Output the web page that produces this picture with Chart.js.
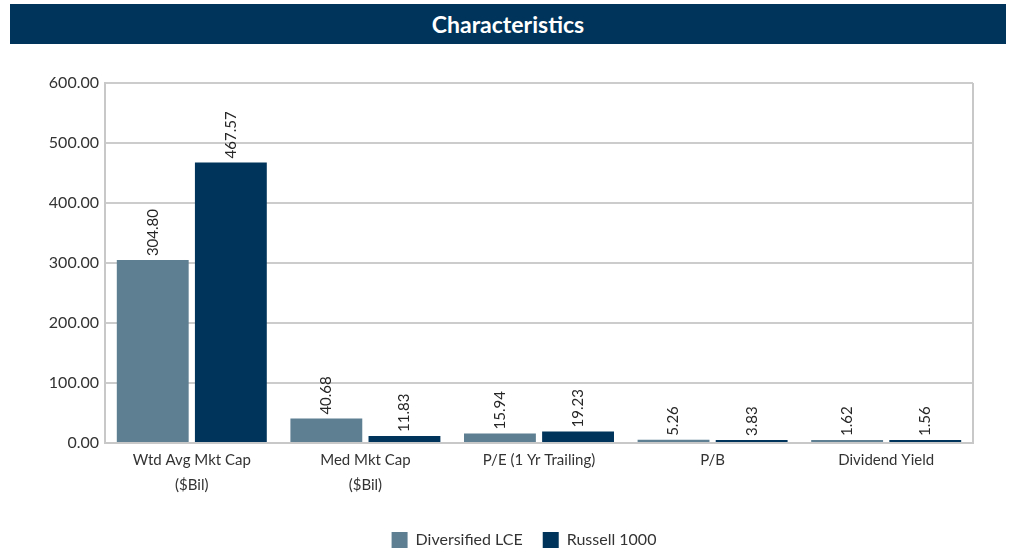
<!DOCTYPE html>
<html>
<head>
<meta charset="utf-8">
<script src="https://cdn.jsdelivr.net/npm/chart.js@4"></script>
<style>
  html, body { margin:0; padding:0; background:#fff; width:1009px; height:552px; overflow:hidden; }
  #title { position:absolute; left:10px; top:4px; width:996px; height:40px; background:#00345A;
           color:#fff; font-family:Lato, "DejaVu Sans", sans-serif; font-weight:bold; font-size:23px;
           line-height:40px; text-align:center; }
  #wrap { position:absolute; left:0; top:48px; width:1009px; height:510px; }
</style>
</head>
<body>
<div id="title">Characteristics</div>
<div id="wrap"><canvas id="c"></canvas></div>
<script>
const categories = [["Wtd Avg Mkt Cap", "($Bil)"], ["Med Mkt Cap", "($Bil)"], "P/E (1 Yr Trailing)", "P/B", "Dividend Yield"];
const seriesNames = ["Diversified LCE", "Russell 1000"];
const diversifiedLCE = [304.80, 40.68, 15.94, 5.26, 1.62];
const russell1000 = [467.57, 11.83, 19.23, 3.83, 1.56];
const yTicks = [0, 100, 200, 300, 400, 500, 600];

const FONT = 'Lato, "DejaVu Sans", sans-serif';

const valueLabels = {
  id: 'valueLabels',
  afterDatasetsDraw(chart) {
    const ctx = chart.ctx;
    ctx.save();
    ctx.font = '15px ' + FONT;
    ctx.fillStyle = '#262626';
    ctx.textAlign = 'left';
    ctx.textBaseline = 'middle';
    chart.data.datasets.forEach((ds, di) => {
      const meta = chart.getDatasetMeta(di);
      meta.data.forEach((el, i) => {
        ctx.save();
        ctx.translate(el.x, el.y - 4);
        ctx.rotate(-Math.PI / 2);
        ctx.fillText(ds.data[i].toFixed(2), 0, 0);
        ctx.restore();
      });
    });
    ctx.restore();
  }
};

const areaBorder = {
  id: 'areaBorder',
  beforeDatasetsDraw(chart) {
    const a = chart.chartArea, ctx = chart.ctx;
    ctx.save();
    ctx.strokeStyle = '#c8c8c8';
    ctx.lineWidth = 2;
    ctx.beginPath();
    ctx.moveTo(a.right, a.top);
    ctx.lineTo(a.right, a.bottom);
    ctx.stroke();
    ctx.restore();
  }
};

new Chart(document.getElementById('c'), {
  type: 'bar',
  data: {
    labels: categories,
    datasets: [
      { label: seriesNames[0], data: diversifiedLCE, backgroundColor: '#5E7F92' },
      { label: seriesNames[1], data: russell1000, backgroundColor: '#00345A' }
    ]
  },
  options: {
    responsive: true,
    maintainAspectRatio: false,
    animation: false,
    datasets: { bar: { categoryPercentage: 0.9, barPercentage: 0.92, minBarLength: 3 } },
    layout: { padding: { top: 35, left: 39, right: 0, bottom: 0 } },
    plugins: {
      tooltip: { enabled: false },
      legend: {
        position: 'bottom',
        labels: { boxWidth: 16, boxHeight: 16, padding: 20, color: '#333', font: { family: FONT, size: 16 } }
      }
    },
    scales: {
      x: {
        grid: { display: false },
        border: { color: '#c8c8c8', width: 2 },
        ticks: { color: '#333', font: { family: FONT, size: 15, lineHeight: 1.7 }, padding: -4, maxRotation: 0, autoSkip: false },
        afterFit(s) { s.height = 69; }
      },
      y: {
        min: 0, max: 600,
        afterBuildTicks(s) { s.ticks = yTicks.map(v => ({ value: v })); },
        grid: { color: '#cccccc', lineWidth: 2, drawTicks: false },
        border: { color: '#c8c8c8', width: 2 },
        ticks: { color: '#333', font: { family: FONT, size: 16 }, padding: 6, callback: v => Number(v).toFixed(2) },
        afterFit(s) { s.width = 66; }
      },
      yRight: {
        position: 'right',
        grid: { display: false },
        border: { display: false },
        ticks: { display: false },
        afterFit(s) { s.width = 36; }
      }
    }
  },
  plugins: [valueLabels, areaBorder]
});
</script>
</body>
</html>
